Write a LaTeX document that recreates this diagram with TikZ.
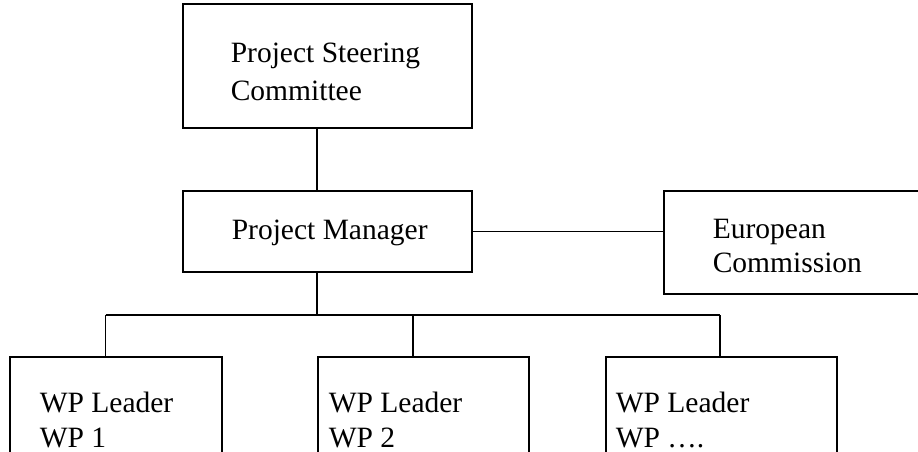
\documentclass[tikz,border=0pt]{standalone}
\usepackage{fontspec}
\setmainfont{Liberation Serif}
\begin{document}
\begin{tikzpicture}[x=1pt,y=-1pt,line width=1.6pt,
  box/.style={draw, rectangle, inner sep=0pt, anchor=north west},
  lbl/.style={anchor=base west, inner sep=0pt, font=\fontsize{29.5}{35}\selectfont}]
\useasboundingbox (0,0) rectangle (918,452);
\clip (0,0) rectangle (918,452);
% boxes
\node[box, minimum width=289pt, minimum height=124pt] (psc) at (182,3) {};
\node[box, minimum width=289pt, minimum height=81pt] (pm) at (182,190) {};
\node[box, minimum width=400pt, minimum height=103pt] (ec) at (663,190) {};
\node[box, minimum width=212pt, minimum height=150pt] (w1) at (9,356) {};
\node[box, minimum width=211pt, minimum height=150pt] (w2) at (317,356) {};
\node[box, minimum width=231pt, minimum height=150pt] (w3) at (605,356) {};
% texts
\node[lbl] (t1a) at (230,63) {Project Steering};
\node[lbl] (t1b) at (230,100) {Committee};
\node[lbl] (t2) at (231,239) {Project Manager};
\node[lbl] (t3a) at (712,238) {European};
\node[lbl] (t3b) at (712,272) {Commission};
\node[lbl] (t4a) at (39,412) {WP Leader};
\node[lbl] (t4b) at (39,447) {WP 1};
\node[lbl] (t5a) at (328,412) {WP Leader};
\node[lbl] (t5b) at (328,447) {WP 2};
\node[lbl] (t6a) at (615,412) {WP Leader};
\node[lbl] (t6b) at (615,447) {WP ….};
% connectors
\coordinate (j) at (317,315);
\coordinate (b1) at (105.6,315);
\coordinate (b2) at (413,315);
\coordinate (b3) at (720,315);
\draw (psc.south -| j) -- (pm.north -| j);
\draw (pm.south -| j) -- (j);
\draw (pm.east) -- (pm.east -| ec.west);
\draw (b1) -- (b3);
\draw (b1) -- (b1 |- w1.north);
\draw (b2) -- (b2 |- w2.north);
\draw (b3) -- (b3 |- w3.north);
\end{tikzpicture}
\end{document}
